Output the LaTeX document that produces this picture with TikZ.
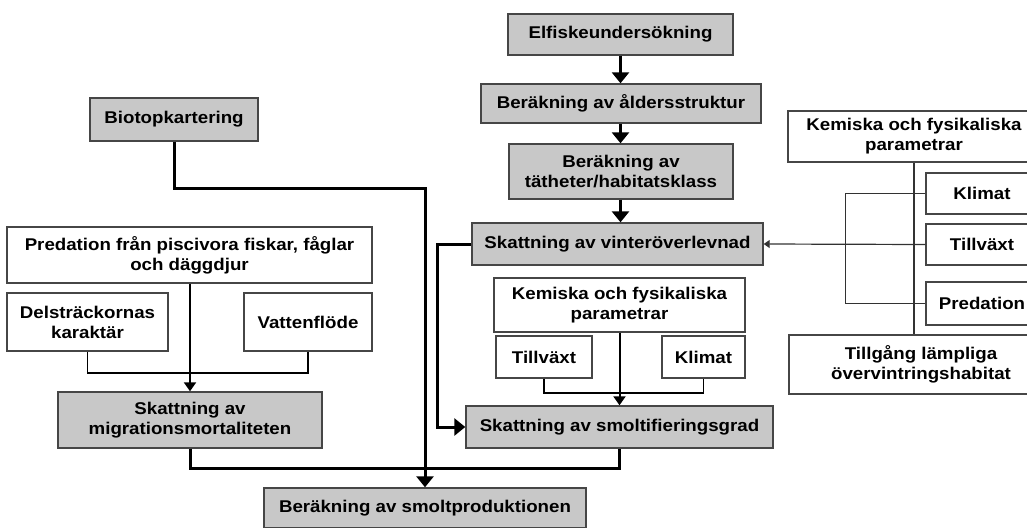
\documentclass[tikz,border=0pt]{standalone}
\usepackage{fontspec}
\setmainfont{Liberation Sans}[FakeStretch=1.1]
\usetikzlibrary{arrows.meta,calc}
\definecolor{boxfill}{RGB}{200,200,200}
\definecolor{boxline}{RGB}{70,70,70}
\definecolor{thinline}{RGB}{50,50,50}
\newcommand\bx[7]{\node[#1, minimum width={(#5-#3)*1pt}, minimum height={(#6-#4)*1pt}] (#2) at ({(#3+#5)/2},{(#4+#6)/2}) {#7};}
\begin{document}
\begin{tikzpicture}[x=1pt,y=-1pt,
  wbox/.style={draw=boxline, line width=1.4pt, fill=white, inner sep=0pt, align=center,
    font=\fontsize{17}{20}\selectfont\bfseries},
  gbox/.style={wbox, fill=boxfill},
  thk/.style={line width=3pt, black},
  med/.style={line width=2pt, black},
  brk/.style={line width=1.6pt, black},
  thn/.style={line width=1.2pt, thinline},
  bigtip/.style={-{Triangle[width=17pt,length=11pt]}},
  midtip/.style={-{Triangle[width=12pt,length=9pt]}},
  smalltip/.style={-{Triangle[width=8pt,length=6pt]}}]
\useasboundingbox (0,0) rectangle (1027,527);
\clip (0,0) rectangle (1027,527);
% left column
\bx{gbox}{bio}{90}{98}{258}{141}{Biotopkartering}
\bx{wbox}{pred}{7}{227}{372}{283}{Predation från piscivora fiskar, fåglar\\och däggdjur}
\bx{wbox}{dels}{7}{293}{168}{351}{Delsträckornas\\karaktär}
\bx{wbox}{vatt}{244}{293}{372}{351}{Vattenflöde}
\bx{gbox}{mig}{58}{392}{322}{448}{Skattning av\\migrationsmortaliteten}
\bx{gbox}{smprod}{264}{488}{586}{528}{Beräkning av smoltproduktionen}
% middle column
\bx{gbox}{elf}{508}{14}{733}{55}{Elfiskeundersökning}
\bx{gbox}{ald}{481}{84}{761}{123}{Beräkning av åldersstruktur}
\bx{gbox}{tat}{509}{144}{733}{199}{Beräkning av\\tätheter/habitatsklass}
\bx{gbox}{vint}{472}{223}{763}{265}{Skattning av vinteröverlevnad}
\bx{wbox}{kem2}{494}{278}{745}{332}{Kemiska och fysikaliska\\parametrar}
\bx{wbox}{till2}{496}{336}{592}{378}{Tillväxt}
\bx{wbox}{klim2}{662}{336}{745}{378}{Klimat}
\bx{gbox}{smolt}{466}{406}{773}{448}{Skattning av smoltifieringsgrad}
% right column
\bx{wbox}{kem1}{788}{111}{1040}{162}{Kemiska och fysikaliska\\parametrar}
\bx{wbox}{klim1}{926}{173}{1038}{214}{Klimat}
\bx{wbox}{tillv1}{926}{224}{1038}{265}{Tillväxt}
\bx{wbox}{pred1}{926}{282}{1038}{325}{Predation}
\bx{wbox}{tillg}{789}{335}{1053}{394}{Tillgång lämpliga\\övervintringshabitat}
% connectors
\draw[thk,bigtip] (elf.south) -- (elf.south |- ald.north);
\draw[thk,bigtip] (elf.south |- ald.south) -- (elf.south |- tat.north);
\draw[thk,bigtip] (elf.south |- tat.south) -- (elf.south |- vint.north);
\draw[thk,bigtip] (bio.south) -- ++(0,47) -| (smprod.north);
\draw[med,midtip] (mig.north |- pred.south) -- (mig.north);
\draw[brk] (dels.south) -- ++(0,21) -| (vatt.south);
\draw[thk] (mig.south) -- ++(0,20) -| (smolt.south);
\draw[thk,bigtip] (vint.west) -- ++(-34,0) |- (smolt.west);
\draw[med,midtip] (kem2.south) -- (smolt.north);
\draw[brk] (till2.south) -- ++(0,14) -| (klim2.south);
\draw[thn] (kem1.south) -- (kem1.south |- tillg.north);
\draw[thn] (klim1.west) -- ++(-80,0) |- (pred1.west);
\draw[thn,smalltip] (tillv1.west) -- (vint.east);
\end{tikzpicture}
\end{document}
